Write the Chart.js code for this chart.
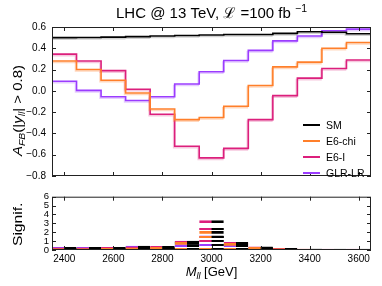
<!DOCTYPE html>
<html>
<head>
<meta charset="utf-8">
<script src="https://cdn.jsdelivr.net/npm/chart.js@4.4.0/dist/chart.umd.min.js"></script>
<style>
body { margin: 0; background: #fff; width: 382px; height: 286px; overflow: hidden; position: relative; font-family: "Liberation Sans", Arial, sans-serif; }
#top { position: absolute; left: 0; top: 0; }
#bot { position: absolute; left: 0; top: 188px; }
#legend { position: absolute; left: 303px; top: 117px; font-size: 10.5px; line-height: 16px; color: #000; }
.item { display: flex; align-items: center; height: 16px; }
.sw { width: 17px; height: 2px; margin-right: 6px; }
</style>
</head>
<body>
<canvas id="top" width="382" height="188"></canvas>
<canvas id="bot" width="382" height="98"></canvas>
<div id="legend"></div>
<script>
// bin centres [GeV], bins are 100 GeV wide
var massBins = [2400, 2500, 2600, 2700, 2800, 2900, 3000, 3100, 3200, 3300, 3400, 3500, 3600];
var binWidth = 100;

// forward-backward asymmetry per bin
var afbSM  = [0.50, 0.502, 0.505, 0.51, 0.515, 0.52, 0.525, 0.53, 0.53, 0.54, 0.555, 0.55, 0.537];
var afbChi = [0.28, 0.20, 0.10, -0.02, -0.17, -0.27, -0.25, -0.145, 0.05, 0.225, 0.27, 0.40, 0.455];
var afbI   = [0.345, 0.28, 0.19, 0.015, -0.22, -0.52, -0.63, -0.54, -0.27, -0.045, 0.12, 0.21, 0.29];
var afbGLR = [0.09, 0.005, -0.055, -0.09, -0.055, 0.065, 0.18, 0.285, 0.38, 0.47, 0.515, 0.565, 0.58];

// significance per bin
var sigChi = [0.15, 0.15, 0.2, 0.25, 0.3, 0.85, 2.1, 0.75, 0.3, 0.15, 0.1, 0.05, 0.05];
var sigI   = [0.25, 0.25, 0.3, 0.35, 0.4, 1.0, 3.3, 0.85, 0.35, 0.2, 0.1, 0.1, 0.1];
var sigGLR = [0.3, 0.3, 0.3, 0.45, 0.2, 0.6, 1.6, 0.6, 0.25, 0.1, 0.05, 0.05, 0.05];

var names  = ['SM', 'E6-chi', 'E6-I', 'GLR-LR'];
var colors = ['#000000', '#ff7f2a', '#dc1f7c', '#9b3cff'];
var shades = ['rgba(0,0,0,0.18)', 'rgba(255,127,42,0.3)', 'rgba(220,31,124,0.25)', 'rgba(155,60,255,0.25)'];

var FONT = '"Liberation Sans", Arial, sans-serif';
var xMin = massBins[0] - binWidth / 2;
var xMax = massBins[massBins.length - 1] + binWidth / 2;

function stepPoints(vals) {
    var pts = massBins.map(function (c, i) { return { x: c - binWidth / 2, y: vals[i] }; });
    pts.push({ x: massBins[massBins.length - 1] + binWidth / 2, y: vals[vals.length - 1] });
    return pts;
}
function barPoints(vals) {
    return massBins.map(function (c, i) { return { x: c, y: vals[i] }; });
}
function minus(s) { return String(s).replace('-', '\u2212'); }

// text with sub/superscripts, drawn on the canvas
function fontOf(p, size) {
    return (p.it ? 'italic ' : '') + ((p.sub || p.sup) ? size * 0.7 : size) + 'px ' + FONT;
}
function drawRich(ctx, parts, x, y, rot, size, stretch) {
    ctx.save();
    ctx.translate(x, y);
    ctx.rotate(rot);
    ctx.scale(stretch || 1, 1);
    ctx.fillStyle = '#000';
    ctx.textBaseline = 'alphabetic';
    var total = 0;
    parts.forEach(function (p) { ctx.font = fontOf(p, size); p.w = ctx.measureText(p.t).width; total += p.w; });
    var cx = -total / 2;
    parts.forEach(function (p) {
        ctx.font = fontOf(p, size);
        var dy = p.sub ? size * 0.25 : (p.sup ? -size * 0.4 : 0);
        ctx.fillText(p.t, cx, size * 0.35 + dy);
        cx += p.w;
    });
    ctx.restore();
}

// frame and inward ticks on all four sides
var frame = {
    id: 'frame',
    afterDraw: function (chart) {
        var ctx = chart.ctx, a = chart.chartArea;
        ctx.save();
        ctx.strokeStyle = '#222';
        ctx.lineWidth = 1;
        ctx.strokeRect(a.left + 0.5, a.top + 0.5, a.right - a.left - 1, a.bottom - a.top - 1);
        ctx.beginPath();
        chart.scales.x.ticks.forEach(function (t) {
            var px = Math.round(chart.scales.x.getPixelForValue(t.value)) + 0.5;
            ctx.moveTo(px, a.bottom); ctx.lineTo(px, a.bottom - 4);
            ctx.moveTo(px, a.top); ctx.lineTo(px, a.top + 4);
        });
        chart.scales.y.ticks.forEach(function (t) {
            var py = Math.round(chart.scales.y.getPixelForValue(t.value)) + 0.5;
            ctx.moveTo(a.left, py); ctx.lineTo(a.left + 4, py);
            ctx.moveTo(a.right, py); ctx.lineTo(a.right - 4, py);
        });
        ctx.stroke();
        ctx.restore();
        var cx = (a.left + a.right) / 2;
        if (chart.canvas.id === 'top') {
            drawRich(ctx, [{ t: 'LHC @ 13 TeV, \u2112 =100 fb ' }, { t: '\u22121', sup: true }], cx, 13, 0, 15);
            drawRich(ctx, [{ t: 'A', it: true }, { t: 'FB', sub: true, it: true }, { t: '(|' }, { t: 'y', it: true },
                { t: 'll', sub: true, it: true }, { t: '| > 0.8)' }], 17, (a.top + a.bottom) / 2 + 9, -Math.PI / 2, 13, 1.15);
        } else {
            drawRich(ctx, [{ t: 'Signif.' }], 17, (a.top + a.bottom) / 2 + 1, -Math.PI / 2, 13, 1.2);
            drawRich(ctx, [{ t: 'M', it: true }, { t: 'll', sub: true, it: true }, { t: ' [GeV]' }], cx, 83, 0, 13);
        }
    }
};

// light offset copy under each step line
var shadow = {
    id: 'shadow',
    beforeDatasetDraw: function (chart, args) {
        var ctx = chart.ctx;
        ctx.save();
        ctx.shadowColor = shades[args.index];
        ctx.shadowOffsetX = -1;
        ctx.shadowOffsetY = 1.5;
        ctx.shadowBlur = 0;
    },
    afterDatasetDraw: function (chart) { chart.ctx.restore(); }
};

var patternCache = {};
function hatch(chart, k, solid) {
    if (!chart.chartArea) return colors[k];
    var xs = chart.scales.x;
    var left = xs.getPixelForValue(xMin);
    var w = xs.getPixelForValue(xMin + binWidth) - left;
    var key = k + '_' + solid + '_' + w.toFixed(3);
    if (patternCache[key]) return patternCache[key];
    var c = document.createElement('canvas');
    c.width = 50; c.height = 12;
    var g = c.getContext('2d');
    var y0 = solid ? 0 : (k - 1) * 4, h = solid ? 12 : 2;
    g.fillStyle = colors[k]; g.fillRect(0, y0, 25, h);
    g.fillStyle = '#000'; g.fillRect(25, y0, 25, h);
    var p = chart.ctx.createPattern(c, 'repeat');
    p.setTransform(new DOMMatrix([w / 50, 0, 0, 1, left, 0]));
    patternCache[key] = p;
    return p;
}

function xScale(showLabels) {
    return {
        type: 'linear', min: xMin, max: xMax, offset: false,
        grid: { display: false, drawTicks: false, offset: false },
        border: { display: false },
        ticks: { display: showLabels, stepSize: 200, includeBounds: false, padding: 3, color: '#000',
                 font: { family: FONT, size: 10 }, maxRotation: 0, callback: function (v) { return String(v); } },
        afterFit: function (s) { s.height = showLabels ? 36 : 0; }
    };
}

var topDatasets = [afbSM, afbChi, afbI, afbGLR].map(function (vals, i) {
    return { label: names[i], data: stepPoints(vals), stepped: 'before', borderColor: colors[i],
             borderWidth: 1.6, pointRadius: 0, fill: false, order: i === 0 ? 0 : 1 };
});

new Chart(document.getElementById('top'), {
    type: 'line',
    data: { datasets: topDatasets },
    options: {
        responsive: false, animation: false,
        layout: { padding: { top: 27, right: 11, bottom: 6, left: 0 } },
        plugins: { legend: { display: false }, tooltip: { enabled: false } },
        scales: {
            x: xScale(false),
            y: {
                min: -0.8, max: 0.6,
                grid: { display: false, drawTicks: false },
                border: { display: false },
                ticks: { stepSize: 0.2, padding: 6, color: '#000', font: { family: FONT, size: 10 },
                         callback: function (v) { return minus(Math.abs(v) < 1e-9 ? '0.0' : v.toFixed(1)); } },
                afterFit: function (s) { s.width = 52; }
            }
        }
    },
    plugins: [shadow, frame]
});

var botDatasets = [sigChi, sigI, sigGLR].map(function (vals, j) {
    var k = j + 1;
    return {
        label: names[k], data: barPoints(vals),
        backgroundColor: function (ctx) { return hatch(ctx.chart, k, false); },
        borderColor: function (ctx) { return hatch(ctx.chart, k, true); },
        borderWidth: { top: 2, left: 0, right: 0, bottom: 0 }, borderSkipped: false,
        barPercentage: 1, categoryPercentage: 1, grouped: false
    };
});

new Chart(document.getElementById('bot'), {
    type: 'bar',
    data: { datasets: botDatasets },
    options: {
        responsive: false, animation: false,
        layout: { padding: { top: 5, right: 11, bottom: 0, left: 0 } },
        plugins: { legend: { display: false }, tooltip: { enabled: false } },
        scales: {
            x: xScale(true),
            y: {
                min: 0, max: 6,
                grid: { display: false, drawTicks: false },
                border: { display: false },
                ticks: { stepSize: 1, autoSkip: false, padding: 3, color: '#000', font: { family: FONT, size: 9.5 } },
                afterFit: function (s) { s.width = 52; }
            }
        }
    },
    plugins: [frame]
});

var legend = document.getElementById('legend');
names.forEach(function (n, i) {
    var row = document.createElement('div');
    row.className = 'item';
    row.innerHTML = '<span class="sw" style="background:' + colors[i] + '"></span><span>' + n + '</span>';
    legend.appendChild(row);
});
</script>
</body>
</html>
